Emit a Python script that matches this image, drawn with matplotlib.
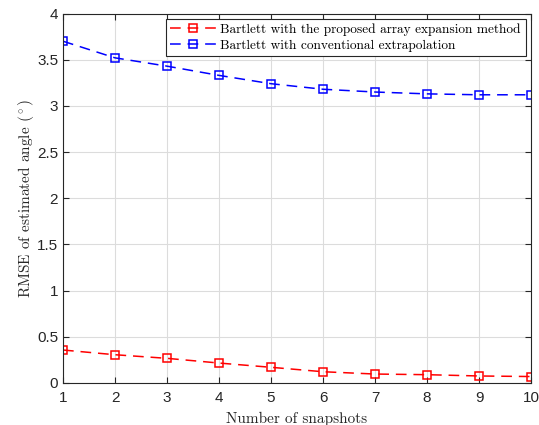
import numpy as np
import matplotlib
matplotlib.use("Agg")
import matplotlib.pyplot as plt

plt.rcParams['mathtext.fontset'] = 'cm'

snapshots = np.arange(1, 11)
rmse_proposed = [0.357, 0.306, 0.267, 0.216, 0.170, 0.122, 0.097, 0.090, 0.076, 0.070]
rmse_conventional = [3.70, 3.52, 3.43, 3.33, 3.24, 3.18, 3.15, 3.13, 3.12, 3.12]
labels = ["Bartlett with the proposed array expansion method",
          "Bartlett with conventional extrapolation"]

fig = plt.figure(figsize=(5.39, 4.25), dpi=100)
ax = fig.add_axes([63/539, 1 - 383/425, (531 - 63)/539, (383 - 13.5)/425])

style = dict(linestyle=(0, (7, 4.5)), lw=1.1, marker='s', markersize=5.3,
             markerfacecolor='none', markeredgewidth=1.1)
ax.plot(snapshots, rmse_proposed, color='red', label=labels[0], **style)
ax.plot(snapshots, rmse_conventional, color='blue', label=labels[1], **style)

ax.set_xlim(1, 10)
ax.set_ylim(0, 4)
ax.set_xticks(range(1, 11))
ax.set_yticks(np.arange(0, 4.01, 0.5))
ax.set_yticklabels(['0', '0.5', '1', '1.5', '2', '2.5', '3', '3.5', '4'])
ax.grid(True, color='#dcdcdc', lw=0.8)
ax.set_axisbelow(True)
ax.tick_params(direction='in', top=True, right=True, length=4, width=0.8,
               labelsize=11, labelfontfamily='Liberation Sans', colors='#262626')
ax.tick_params(axis='x', pad=6)
for s in ax.spines.values():
    s.set_color('#262626')
    s.set_linewidth(0.8)

ax.set_xlabel('Number of snapshots', family='cmr10', fontsize=11, color='#262626',
              labelpad=5)
ax.set_ylabel(r'RMSE of estimated angle $(^\circ)$', family='cmr10', fontsize=11,
              color='#262626')
ax.yaxis.set_label_coords(-0.058, 0.5)

leg = ax.legend(loc='upper right', prop={'family': 'cmr10', 'size': 9.6},
                fancybox=False, edgecolor='#262626', framealpha=1,
                borderpad=0.35, labelspacing=0.25, handlelength=3.4,
                handletextpad=0.35, borderaxespad=0.4)
leg.get_frame().set_linewidth(0.8)

fig.savefig('out.png', dpi=100)
